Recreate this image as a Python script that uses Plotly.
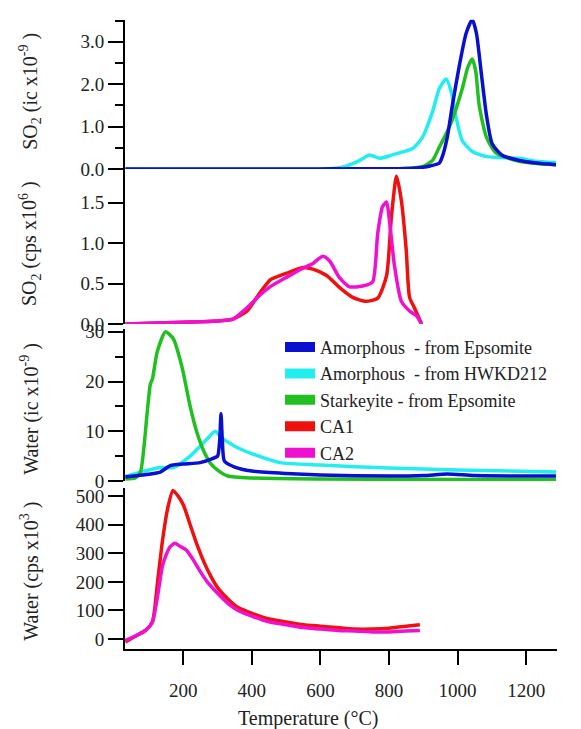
import plotly.graph_objects as go

W, H = 581, 729
FONT = "Liberation Serif"

# ---------------- data ----------------
# Panel 1: SO2 (ic x10^-9)
so2ic_blue_T = [31, 600, 850, 890, 920, 947, 956, 970, 985, 1005, 1025, 1043, 1055, 1069, 1084, 1101, 1130, 1180, 1230, 1287]
so2ic_blue_v = [0.0, 0.0, 0.01, 0.03, 0.07, 0.14, 0.3, 0.75, 1.51, 2.43, 3.2, 3.52, 3.2, 2.27, 1.28, 0.59, 0.32, 0.2, 0.14, 0.1]
so2ic_green_T = [600, 850, 900, 927, 947, 965, 985, 1014, 1030, 1043, 1053, 1063, 1084, 1113, 1180, 1230, 1287]
so2ic_green_v = [0.0, 0.01, 0.06, 0.2, 0.52, 0.8, 1.17, 1.9, 2.4, 2.59, 2.3, 1.5, 0.75, 0.37, 0.18, 0.13, 0.1]
so2ic_cyan_T = [31, 619, 650, 677, 715, 743, 773, 810, 840, 869, 898, 927, 947, 967, 982, 996, 1014, 1043, 1084, 1180, 1229, 1287]
so2ic_cyan_v = [0.0, 0.0, 0.02, 0.07, 0.2, 0.33, 0.25, 0.33, 0.4, 0.48, 0.75, 1.35, 1.9, 2.12, 1.8, 1.2, 0.66, 0.41, 0.29, 0.25, 0.18, 0.15]

# Panel 2: SO2 (cps x10^6)
so2cps_ca1_T = [31, 200, 308, 345, 386, 424, 444, 455, 502, 549, 578, 618, 656, 694, 733, 767, 793, 807, 822, 836, 850, 860, 874, 895]
so2cps_ca1_v = [0.0, 0.02, 0.04, 0.06, 0.16, 0.39, 0.5, 0.55, 0.63, 0.7, 0.68, 0.6, 0.45, 0.33, 0.28, 0.32, 0.6, 1.33, 1.83, 1.53, 0.93, 0.33, 0.2, 0.0]
so2cps_ca2_T = [31, 200, 308, 345, 386, 424, 453, 502, 549, 578, 607, 627, 656, 685, 723, 752, 767, 781, 793, 801, 816, 836, 860, 880, 895]
so2cps_ca2_v = [0.0, 0.02, 0.04, 0.06, 0.2, 0.36, 0.46, 0.58, 0.69, 0.75, 0.84, 0.78, 0.57, 0.46, 0.47, 0.52, 1.12, 1.45, 1.51, 1.29, 0.72, 0.28, 0.16, 0.1, 0.0]

# Panel 3: Water (ic x10^-9)
wic_blue_T = [31, 80, 133, 162, 200, 249, 285, 300, 306, 310, 314, 320, 350, 400, 500, 600, 800, 900, 970, 1050, 1287]
wic_blue_v = [0.8, 1.2, 1.8, 3.1, 3.4, 3.7, 4.5, 5.0, 8.0, 13.5, 8.0, 4.0, 2.8, 2.0, 1.5, 1.2, 1.0, 1.1, 1.4, 1.1, 1.0]
wic_cyan_T = [31, 133, 171, 220, 249, 270, 293, 310, 350, 400, 482, 600, 800, 1000, 1150, 1287]
wic_cyan_v = [0.9, 2.7, 2.7, 5.0, 7.0, 8.5, 10.0, 8.8, 7.0, 5.5, 3.7, 3.2, 2.6, 2.2, 2.0, 1.8]
wic_green_T = [31, 60, 75, 95, 104, 110, 124, 148, 171, 197, 220, 240, 260, 280, 300, 330, 400, 600, 1000, 1287]
wic_green_v = [0.4, 0.6, 1.8, 14.0, 19.5, 20.5, 26.0, 30.0, 28.6, 22.7, 15.0, 9.7, 6.0, 3.5, 2.2, 1.0, 0.6, 0.4, 0.3, 0.3]

# Panel 4: Water (cps x10^3)
wcps_ca1_T = [31, 60, 90, 110, 125, 140, 155, 170, 185, 200, 220, 240, 260, 280, 300, 330, 360, 400, 450, 500, 550, 600, 650, 700, 750, 800, 850, 890]
wcps_ca1_v = [-10, 10, 30, 60, 200, 350, 460, 520, 500, 470, 400, 330, 270, 220, 180, 140, 110, 90, 70, 60, 50, 45, 40, 35, 35, 38, 45, 50]
wcps_ca2_T = [31, 60, 90, 110, 125, 140, 160, 175, 190, 210, 230, 250, 270, 300, 330, 360, 400, 450, 500, 550, 600, 650, 700, 750, 800, 850, 890]
wcps_ca2_v = [-5, 10, 30, 60, 150, 260, 320, 335, 325, 310, 275, 235, 200, 160, 125, 100, 80, 60, 50, 40, 35, 30, 28, 25, 25, 28, 30]

x_ticks = [200, 400, 600, 800, 1000, 1200]

names = ["Amorphous\u00a0 - from Epsomite", "Amorphous\u00a0 - from HWKD212",
         "Starkeyite - from Epsomite", "CA1", "CA2"]
colors = ["#0a10d0", "#22eef0", "#20c020", "#f01010", "#f010d0"]
BLUE, CYAN, GREEN, RED, MAG = colors

fig = go.Figure()
LW = 3.5

def add(T, v, color, yaxis):
    fig.add_trace(go.Scatter(x=T, y=v, mode="lines",
                             line=dict(color=color, width=LW, shape="spline", smoothing=0.6),
                             yaxis=yaxis, xaxis="x", showlegend=False, hoverinfo="skip"))

# panel 1
add(so2ic_cyan_T, so2ic_cyan_v, CYAN, "y")
add(so2ic_green_T, so2ic_green_v, GREEN, "y")
add(so2ic_blue_T, so2ic_blue_v, BLUE, "y")
# panel 2
add(so2cps_ca1_T, so2cps_ca1_v, RED, "y2")
add(so2cps_ca2_T, so2cps_ca2_v, MAG, "y2")
# panel 3
add(wic_cyan_T, wic_cyan_v, CYAN, "y3")
add(wic_green_T, wic_green_v, GREEN, "y3")
add(wic_blue_T, wic_blue_v, BLUE, "y3")
# panel 4
add(wcps_ca1_T, wcps_ca1_v, RED, "y4")
add(wcps_ca2_T, wcps_ca2_v, MAG, "y4")

# legend entries
for n, c in zip(names, colors):
    fig.add_trace(go.Scatter(x=[None], y=[None], mode="lines", name=n,
                             line=dict(color=c, width=12), yaxis="y3", xaxis="x"))

def dom(top_px, bot_px):
    return [1 - bot_px / H, 1 - top_px / H]

xl, xr = 125 / W, 557 / W
TICKFONT = dict(family=FONT, size=19, color="#222")
axcommon = dict(showgrid=False, zeroline=False, showline=True, linecolor="black", linewidth=2,
                ticks="outside", tickcolor="black", tickwidth=2, ticklen=15,
                tickfont=TICKFONT, anchor="x")

fig.update_layout(
    width=W, height=H,
    margin=dict(l=0, r=0, t=0, b=0),
    paper_bgcolor="white", plot_bgcolor="white",
    font=dict(family=FONT, size=18, color="#222"),
    xaxis=dict(domain=[xl, xr], range=[30, 1290], anchor="y4", showgrid=False, zeroline=False,
               showline=True, linecolor="black", linewidth=2, ticks="outside", tickcolor="black",
               tickwidth=2, ticklen=14, tickvals=x_ticks, tickfont=TICKFONT,
               ticklabelstandoff=9),
    yaxis=dict(domain=dom(13, 166), range=[0, 3.52], tickvals=[0, 1, 2, 3], tickformat=".1f",
               minor=dict(dtick=0.5, ticks="outside", ticklen=8, tickwidth=2, tickcolor="black"),
               **axcommon),
    yaxis2=dict(domain=dom(166, 325), range=[0, 1.92], tickvals=[0, 0.5, 1.0, 1.5], tickformat=".1f",
                **axcommon),
    yaxis3=dict(domain=dom(330, 486), range=[0, 30.6], tickvals=[0, 10, 20, 30],
                minor=dict(dtick=5, ticks="outside", ticklen=8, tickwidth=2, tickcolor="black"),
                **axcommon),
    yaxis4=dict(domain=dom(493, 658), range=[-34, 529], tickvals=[0, 100, 200, 300, 400, 500],
                **axcommon),
    legend=dict(x=280 / W, y=1 - 330 / H, xanchor="left", yanchor="top",
                bgcolor="rgba(0,0,0,0)", font=dict(family=FONT, size=18, color="#222"),
                tracegroupgap=0, itemwidth=30),
)

titles = [
    ("SO<sub>2</sub> (ic x10<sup>-9</sup> )", 87),
    ("SO<sub>2</sub> (cps x10<sup>6</sup> )", 243),
    ("Water (ic x10<sup>-9</sup> )", 412),
    ("Water (cps x10<sup>3</sup> )", 579),
]
for t, ypx in titles:
    fig.add_annotation(text=t, xref="paper", yref="paper", x=30 / W, y=1 - ypx / H,
                       xanchor="center", yanchor="middle", textangle=-90, showarrow=False,
                       font=dict(family=FONT, size=20, color="#222"))
fig.add_annotation(text="Temperature (°C)", xref="paper", yref="paper", x=308 / W, y=0,
                   xanchor="center", yanchor="middle", showarrow=False,
                   font=dict(family=FONT, size=20, color="#222"))

fig.write_html("out.html", config={"displayModeBar": False},
               post_script="document.body.style.margin='0';")
